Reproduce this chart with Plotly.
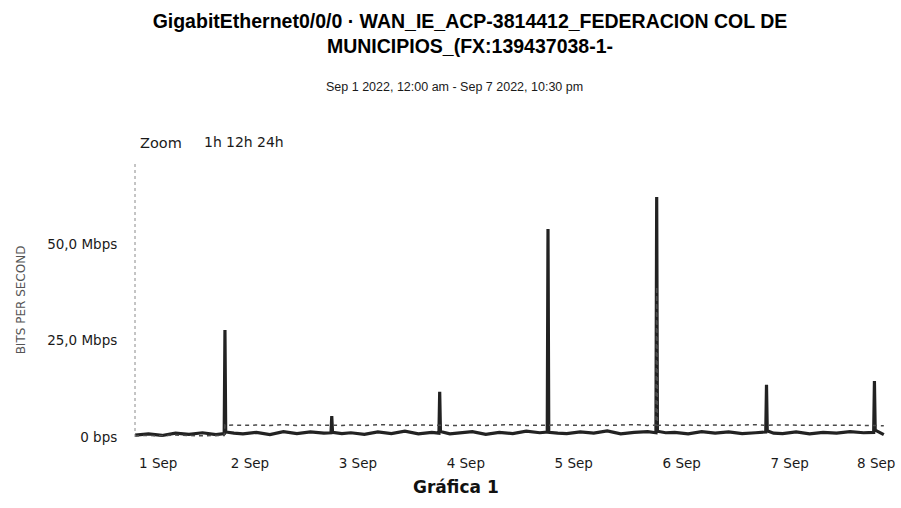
import plotly.graph_objects as go

# Sample timestamps (interface polling, with the short evening bursts)
times = [
    "2022-09-01 00:00", "2022-09-01 03:00", "2022-09-01 06:00", "2022-09-01 09:00",
    "2022-09-01 12:00", "2022-09-01 15:00", "2022-09-01 18:00",
    "2022-09-01 19:50", "2022-09-01 20:00", "2022-09-01 20:10", "2022-09-01 22:00",
    "2022-09-02 00:00", "2022-09-02 03:00", "2022-09-02 06:00", "2022-09-02 09:00",
    "2022-09-02 12:00", "2022-09-02 15:00", "2022-09-02 18:00",
    "2022-09-02 19:35", "2022-09-02 19:45", "2022-09-02 19:55", "2022-09-02 22:00",
    "2022-09-03 00:00", "2022-09-03 03:00", "2022-09-03 06:00", "2022-09-03 09:00",
    "2022-09-03 12:00", "2022-09-03 15:00", "2022-09-03 18:00",
    "2022-09-03 19:35", "2022-09-03 19:45", "2022-09-03 19:55", "2022-09-03 22:00",
    "2022-09-04 00:00", "2022-09-04 03:00", "2022-09-04 06:00", "2022-09-04 09:00",
    "2022-09-04 12:00", "2022-09-04 15:00", "2022-09-04 18:00",
    "2022-09-04 19:40", "2022-09-04 19:50", "2022-09-04 20:00", "2022-09-04 22:00",
    "2022-09-05 00:00", "2022-09-05 03:00", "2022-09-05 06:00", "2022-09-05 09:00",
    "2022-09-05 12:00", "2022-09-05 15:00", "2022-09-05 18:00",
    "2022-09-05 19:50", "2022-09-05 20:00", "2022-09-05 20:10", "2022-09-05 22:00",
    "2022-09-06 00:00", "2022-09-06 03:00", "2022-09-06 06:00", "2022-09-06 09:00",
    "2022-09-06 12:00", "2022-09-06 15:00", "2022-09-06 18:00",
    "2022-09-06 20:15", "2022-09-06 20:25", "2022-09-06 20:35", "2022-09-06 22:00",
    "2022-09-07 00:00", "2022-09-07 03:00", "2022-09-07 06:00", "2022-09-07 09:00",
    "2022-09-07 12:00", "2022-09-07 15:00", "2022-09-07 18:00",
    "2022-09-07 20:15", "2022-09-07 20:25", "2022-09-07 20:35", "2022-09-07 22:30",
]

# Traffic in Mbps
inbound_mbps = [
    0.5, 0.8, 0.4, 1.0, 0.7, 1.1, 0.6, 0.9, 27.7, 1.3, 1.0,
    0.8, 1.2, 0.6, 1.4, 0.9, 1.3, 1.0, 1.1, 5.4, 1.2, 0.9,
    1.1, 0.7, 1.3, 0.9, 1.5, 0.8, 1.2, 1.0, 11.7, 1.4, 0.8,
    1.0, 1.4, 0.7, 1.2, 0.9, 1.5, 1.1, 1.3, 53.9, 1.2, 1.0,
    0.9, 1.3, 1.0, 1.6, 0.8, 1.2, 1.4, 1.1, 62.2, 1.5, 1.1,
    1.2, 0.8, 1.4, 1.0, 1.3, 0.9, 1.1, 1.3, 13.5, 1.6, 1.0,
    0.9, 1.3, 0.8, 1.2, 1.0, 1.4, 1.1, 1.2, 14.5, 1.8, 0.6,
]
outbound_mbps = [
    0.3, 0.4, 0.3, 0.5, 0.4, 0.3, 0.4, 0.4, 3.1, 3.0, 3.1,
    3.0, 3.1, 3.0, 3.2, 3.0, 3.1, 3.0, 3.1, 3.0, 3.1, 3.0,
    3.1, 3.0, 3.2, 3.1, 3.0, 3.1, 3.0, 3.1, 3.0, 3.1, 3.0,
    3.0, 3.1, 3.0, 3.1, 3.2, 3.0, 3.1, 3.0, 3.1, 3.0, 3.1,
    3.1, 3.0, 3.1, 3.0, 3.1, 3.2, 3.0, 3.1, 39.0, 3.0, 3.1,
    3.0, 3.1, 3.0, 3.1, 3.0, 3.1, 3.2, 3.0, 3.1, 3.0, 3.1,
    3.1, 3.0, 3.1, 3.0, 3.1, 3.0, 3.1, 3.0, 3.1, 3.0, 2.9,
]

y_tick_values = [0, 25, 50]
y_tick_labels = ["0 bps", "25,0 Mbps", "50,0 Mbps"]
x_tick_dates = ["2022-09-01", "2022-09-02", "2022-09-03", "2022-09-04",
                "2022-09-05", "2022-09-06", "2022-09-07", "2022-09-08"]
x_tick_labels = ["1 Sep", "2 Sep", "3 Sep", "4 Sep", "5 Sep", "6 Sep", "7 Sep", "8 Sep"]
zoom_labels = ["1h", "12h", "24h"]

TEXT = "#1a1a1a"
TICK_FONT = dict(family="DejaVu Sans", size=13.5, color=TEXT)

fig = go.Figure()
fig.add_trace(go.Scatter(
    x=times, y=inbound_mbps, mode="lines", name="Inbound",
    line=dict(color="#222222", width=3.2),
))
fig.add_trace(go.Scatter(
    x=times, y=outbound_mbps, mode="lines", name="Outbound",
    line=dict(color="#4a4a4a", width=1.5, dash="4px,4px"),
))

# Inner day labels sit centred on their ticks; the first and last are
# justified inward so they stay inside the chart.
annotations = [
    dict(text=x_tick_labels[0], xref="x", yref="paper", x=x_tick_dates[0], y=-0.095,
         xanchor="left", yanchor="middle", xshift=2, showarrow=False, font=TICK_FONT),
    dict(text=x_tick_labels[-1], xref="x", yref="paper", x=x_tick_dates[-1], y=-0.095,
         xanchor="right", yanchor="middle", xshift=6, showarrow=False, font=TICK_FONT),
    dict(text="Sep 1 2022, 12:00 am - Sep 7 2022, 10:30 pm",
         xref="paper", yref="paper", x=0.423, y=1.277,
         xanchor="center", yanchor="middle", showarrow=False,
         font=dict(family="Liberation Sans, Arial", size=12.5, color=TEXT)),
    dict(text="Zoom", xref="paper", yref="paper", x=0.004, y=1.073,
         xanchor="left", yanchor="middle", showarrow=False,
         font=dict(family="DejaVu Sans", size=14.5, color=TEXT)),
    dict(text="<b>Gráfica 1</b>", xref="paper", yref="paper", x=0.425, y=-0.182,
         xanchor="center", yanchor="middle", showarrow=False,
         font=dict(family="DejaVu Sans", size=17, color="#111")),
]
for label, xpos in zip(zoom_labels, [0.1035, 0.1385, 0.1790]):
    annotations.append(dict(text=label, xref="paper", yref="paper", x=xpos, y=1.076,
                            xanchor="center", yanchor="middle", showarrow=False,
                            font=dict(family="DejaVu Sans", size=14, color=TEXT)))

fig.update_layout(
    width=901, height=508,
    margin=dict(l=135, r=10, t=163, b=71),
    paper_bgcolor="white", plot_bgcolor="white",
    showlegend=False,
    title=dict(
        text="<b>GigabitEthernet0/0/0 · WAN_IE_ACP-3814412_FEDERACION COL DE<br>MUNICIPIOS_(FX:139437038-1-</b>",
        x=0.5216, xanchor="center", xref="container",
        y=1 - 28 / 508, yanchor="middle", yref="container",
        font=dict(family="Liberation Sans, Arial", size=19.5, color="#000"),
    ),
    xaxis=dict(
        type="date",
        range=["2022-09-01 00:00", "2022-09-08 00:06"],
        tickmode="array", tickvals=x_tick_dates[1:-1], ticktext=x_tick_labels[1:-1],
        tickangle=0, ticklabelshift=7,
        automargin=False,
        ticks="outside", ticklen=14, tickcolor="rgba(0,0,0,0)",
        tickfont=TICK_FONT,
        showgrid=False, zeroline=False, showline=False,
    ),
    yaxis=dict(
        range=[0, 71],
        tickmode="array", tickvals=y_tick_values, ticktext=y_tick_labels,
        automargin=False,
        ticks="outside", ticklen=14, tickcolor="rgba(0,0,0,0)",
        tickfont=TICK_FONT,
        showgrid=False, zeroline=False, showline=False,
        title=dict(text="BITS PER SECOND", standoff=18,
                   font=dict(family="DejaVu Sans", size=12, color="#555")),
    ),
    shapes=[
        dict(type="line", xref="paper", yref="paper", x0=0, x1=0, y0=0, y1=1,
             line=dict(color="#8a8a8a", width=1, dash="dot")),
    ],
    annotations=annotations,
)

fig.write_html("out.html")
